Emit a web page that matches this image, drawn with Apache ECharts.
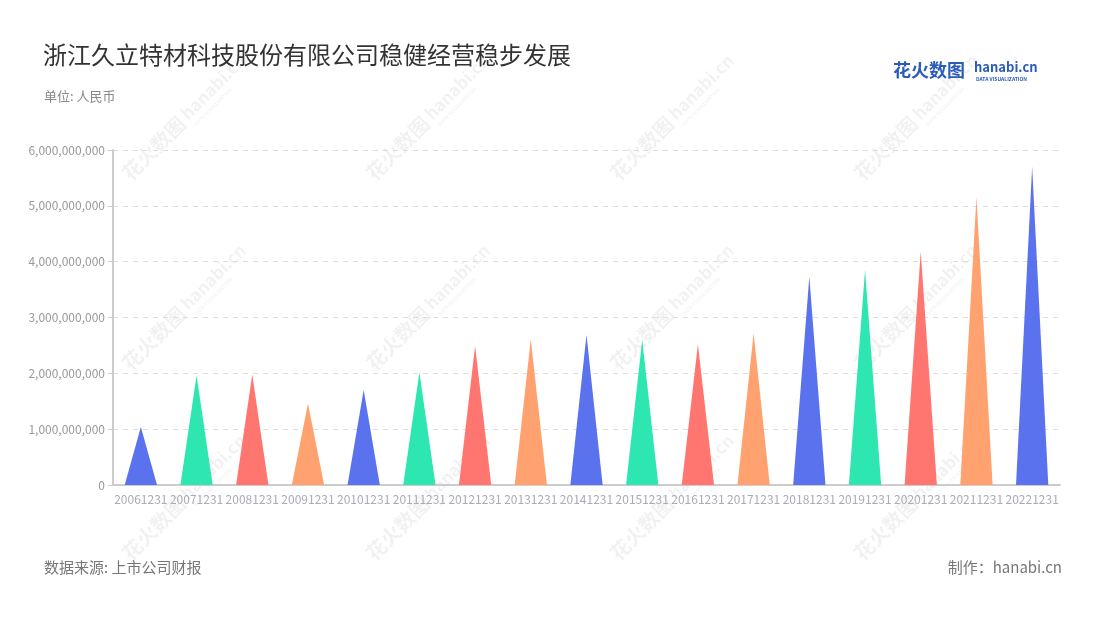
<!DOCTYPE html>
<html>
<head>
<meta charset="utf-8">
<script src="https://cdn.jsdelivr.net/npm/echarts@6/dist/echarts.min.js"></script>
<style>
html,body{margin:0;padding:0;background:#fff;}
#chart{width:1100px;height:620px;}
</style>
</head>
<body>
<div id="chart"></div>
<script>
const categories = ['20061231','20071231','20081231','20091231','20101231','20111231','20121231','20131231','20141231','20151231','20161231','20171231','20181231','20191231','20201231','20211231','20221231'];
const revenue = [1040000000,1960000000,1980000000,1460000000,1700000000,2020000000,2490000000,2610000000,2690000000,2600000000,2520000000,2720000000,3730000000,3850000000,4180000000,5160000000,5700000000];
const palette = ['#5a72ee','#2ee6b0','#ff7670','#ffa26f'];
const yTicks = { min: 0, max: 6000000000, interval: 1000000000 };

const FONT = '"Noto Sans CJK SC","Noto Sans",sans-serif';
const chart = echarts.init(document.getElementById('chart'), null, {renderer:'canvas'});

// watermark graphics
const wmColor = 'rgba(0,0,0,0.055)';
const wmCenters = [];
[120, 310, 500].forEach(y => [182, 426, 670, 914].forEach(x => wmCenters.push([x, y])));
const watermarks = wmCenters.map(([x, y]) => ({
  type: 'group', x: x, y: y, rotation: Math.PI / 4, silent: true, z: -10,
  children: [
    {type:'text', x:-80, y:-10, style:{text:'花火数图', fill:wmColor, font:'bold 20px ' + FONT}},
    {type:'text', x:4, y:-10, style:{text:'hanabi.cn', fill:wmColor, font:'bold 17px ' + FONT}},
    {type:'text', x:6, y:10, style:{text:'DATA VISUALIZATION', fill:wmColor, font:'bold 5px ' + FONT}}
  ]
}));

const option = {
  backgroundColor: '#fff',
  textStyle: { fontFamily: FONT },
  title: [
    { text: '浙江久立特材科技股份有限公司稳健经营稳步发展', left: 43, top: 43, padding: 0,
      textStyle: { fontSize: 24, fontWeight: 'normal', color: '#333', fontFamily: FONT } },
    { text: '单位: 人民币', left: 44, top: 90, padding: 0,
      textStyle: { fontSize: 13, fontWeight: 'normal', color: '#888', fontFamily: FONT } },
    { text: '数据来源: 上市公司财报', left: 44, top: 560, padding: 0,
      textStyle: { fontSize: 15, fontWeight: 'normal', color: '#777', fontFamily: FONT } },
    { text: '制作：hanabi.cn', right: 38, top: 560, padding: 0,
      textStyle: { fontSize: 15, fontWeight: 'normal', color: '#777', fontFamily: FONT } }
  ],
  graphic: watermarks.concat([
    {type:'text', left: 893, top: 61, style:{text:'花火数图', fill:'#2a5cb8', font:'bold 18px ' + FONT}},
    {type:'text', left: 974, top: 61, style:{text:'hanabi.cn', fill:'#2a5cb8', font:'bold 13px ' + FONT}},
    {type:'text', left: 976, top: 77, style:{text:'DATA VISUALIZATION', fill:'#2a5cb8', font:'bold 5px ' + FONT}}
  ]),
  grid: { left: 113, right: 40, top: 150, bottom: 135, containLabel: false },
  xAxis: {
    type: 'category', data: categories,
    axisLine: { lineStyle: { color: '#ccc', width: 2 } },
    axisTick: { alignWithLabel: true, length: 5, lineStyle: { color: '#bbb' } },
    axisLabel: { color: '#aab', fontSize: 12, margin: 8, interval: 0, fontFamily: FONT }
  },
  yAxis: {
    type: 'value', min: yTicks.min, max: yTicks.max, interval: yTicks.interval,
    axisLine: { show: true, lineStyle: { color: '#ccc', width: 2 } },
    axisTick: { show: true, length: 5, lineStyle: { color: '#ccc' } },
    axisLabel: { color: '#999', fontSize: 12, margin: 8, fontFamily: FONT,
      formatter: v => v.toLocaleString('en-US') },
    splitLine: { lineStyle: { color: '#ddd', type: [5, 5] } }
  },
  series: [{
    type: 'custom',
    data: revenue.map((v, i) => [i, v]),
    encode: { x: 0, y: 1 },
    renderItem: function (params, api) {
      const i = params.dataIndex;
      const top = api.coord([i, api.value(1)]);
      const base = api.coord([i, 0]);
      const w = api.size([1, 0])[0] * 0.58;
      return {
        type: 'polygon',
        shape: { points: [[base[0] - w / 2, base[1]], [base[0] + w / 2, base[1]], [top[0], top[1]]] },
        style: { fill: palette[i % palette.length] }
      };
    }
  }]
};
chart.setOption(option);
</script>
</body>
</html>
